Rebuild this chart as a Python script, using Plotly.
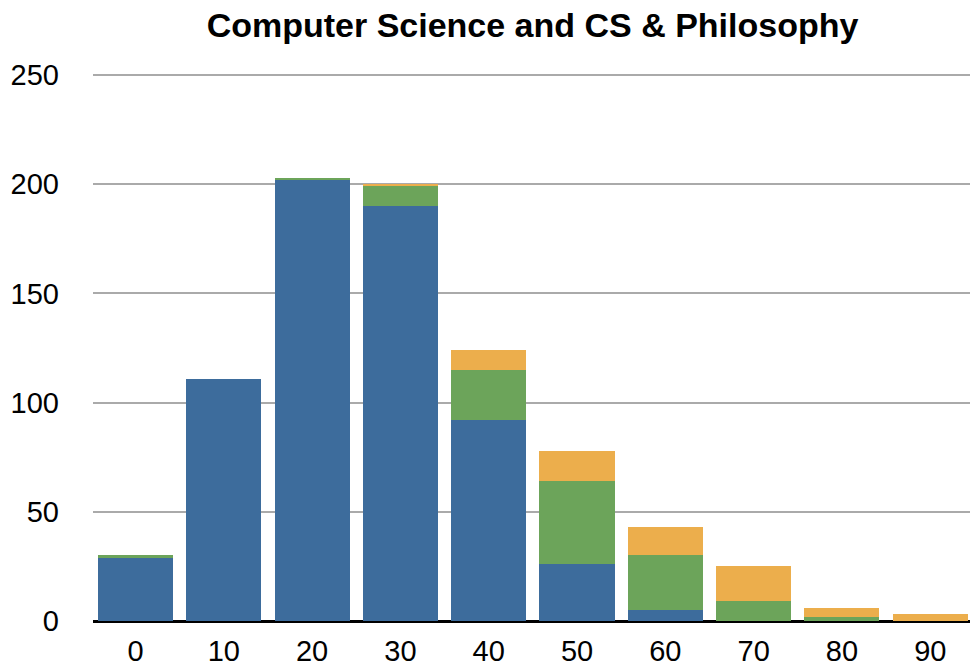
import plotly.graph_objects as go

categories = ["0", "10", "20", "30", "40", "50", "60", "70", "80", "90"]
blue_vals = [29, 111, 202, 190, 92, 26, 5, 0, 0, 0]
green_vals = [1, 0, 1, 9, 23, 38, 25, 9, 2, 0]
orange_vals = [0, 0, 0, 1, 9, 14, 13, 16, 4, 3]
y_ticks = [0, 50, 100, 150, 200, 250]

fig = go.Figure()
for name, vals, color in [("CS", blue_vals, "#3D6C9C"),
                          ("CS & Philosophy", green_vals, "#6CA45A"),
                          ("Other", orange_vals, "#ECAE4C")]:
    fig.add_trace(go.Bar(x=categories, y=vals, name=name, marker_color=color,
                         marker_line_width=0))

fig.update_layout(
    barmode="stack",
    bargap=0.15,
    width=970, height=668,
    margin=dict(l=93, r=0, t=74, b=47, autoexpand=False),
    plot_bgcolor="white", paper_bgcolor="white",
    showlegend=False,
    font=dict(family="Liberation Sans, Arial, sans-serif", size=29, color="black"),
    title=dict(text="<b>Computer Science and CS & Philosophy</b>", x=0.549, xanchor="center",
               xref="container", y=0.962, yanchor="middle", font=dict(size=34, color="black")),
)
fig.update_xaxes(range=[-0.481, 9.45], showgrid=False, ticks="", tickfont=dict(size=29),
                 ticklabelstandoff=10, automargin=False)
fig.update_yaxes(range=[0, 250.5], tickvals=y_ticks, showgrid=True, gridcolor="#AAAAAA", gridwidth=2,
                 zeroline=True, zerolinecolor="black", zerolinewidth=3, ticks="",
                 tickfont=dict(size=29), ticklabelstandoff=33, automargin=False)

fig.write_html("out.html", config={"displayModeBar": False},
               post_script="document.body.style.margin='0';document.body.style.overflow='hidden';")
